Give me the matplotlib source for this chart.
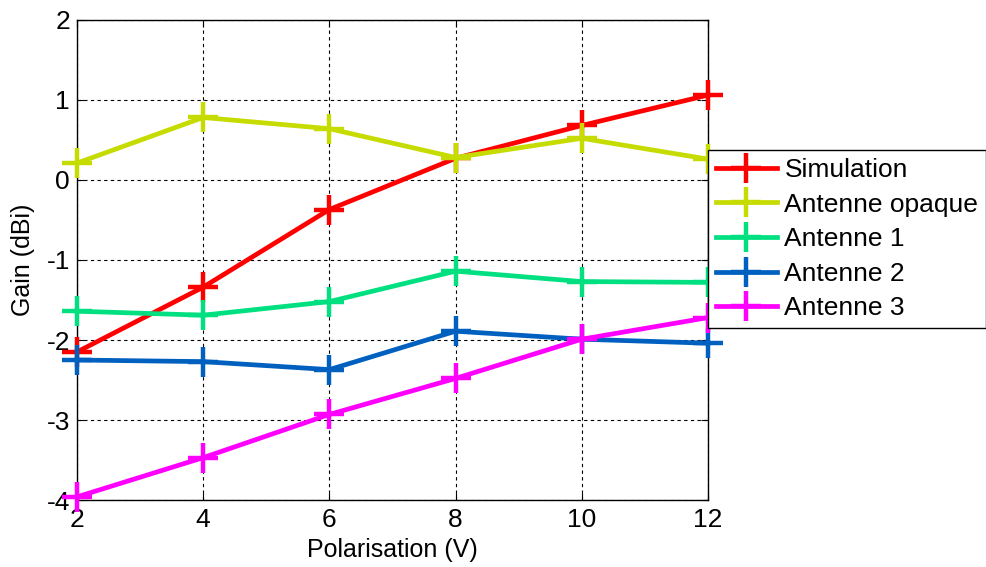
import matplotlib
matplotlib.use("Agg")
import matplotlib.pyplot as plt

plt.rcParams["font.family"] = ["Liberation Sans", "DejaVu Sans"]
plt.rcParams["axes.unicode_minus"] = False

# Polarisation voltages (V)
voltage = [2, 4, 6, 8, 10, 12]

# Gain (dBi)
simulation = [-2.15, -1.34, -0.37, 0.27, 0.68, 1.06]
antenne_opaque = [0.21, 0.78, 0.64, 0.28, 0.52, 0.26]
antenne_1 = [-1.64, -1.69, -1.52, -1.14, -1.27, -1.28]
antenne_2 = [-2.25, -2.27, -2.37, -1.89, -1.99, -2.04]
antenne_3 = [-3.96, -3.47, -2.93, -2.48, -1.99, -1.72]

series = [
    ("Simulation", simulation, "#FF0000"),
    ("Antenne opaque", antenne_opaque, "#C6DC00"),
    ("Antenne 1", antenne_1, "#00E080"),
    ("Antenne 2", antenne_2, "#0060C0"),
    ("Antenne 3", antenne_3, "#FF00FF"),
]

fig = plt.figure(figsize=(9.86, 5.67), dpi=100)
ax = fig.add_axes([0.078, 0.118, 0.640, 0.847])

for name, values, color in series:
    ax.plot(
        voltage,
        values,
        color=color,
        linewidth=3.4,
        marker="+",
        markersize=22,
        markeredgewidth=3.2,
        label=name,
        clip_on=False,
        zorder=3,
    )

ax.set_xlim(2, 12)
ax.set_ylim(-4, 2)
ax.set_xticks(voltage)
ax.set_yticks([-4, -3, -2, -1, 0, 1, 2])
ax.grid(True, color="black", linestyle=(0, (3, 3)), linewidth=0.8)
ax.tick_params(direction="in", top=True, right=True, labelsize=19, length=5)
ax.tick_params(axis="x", pad=6)
ax.tick_params(axis="y", pad=5)
for spine in ax.spines.values():
    spine.set_linewidth(1.0)

ax.set_xlabel("Polarisation (V)", fontsize=18, labelpad=4)
ax.set_ylabel("Gain (dBi)", fontsize=18, labelpad=8)

leg = ax.legend(
    loc="upper left",
    bbox_to_anchor=(0.718, 0.735),
    bbox_transform=fig.transFigure,
    fontsize=19,
    frameon=True,
    fancybox=False,
    framealpha=1,
    edgecolor="black",
    handlelength=2.3,
    handletextpad=0.3,
    labelspacing=0.4,
    borderpad=0.3,
    borderaxespad=0,
)
leg.get_frame().set_linewidth(1.0)
leg.set_zorder(5)

fig.savefig("out.png", dpi=100)
